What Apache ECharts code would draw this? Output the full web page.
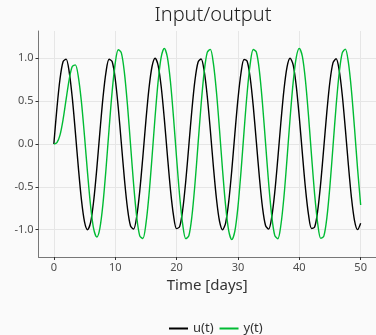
<!DOCTYPE html>
<html>
<head>
<meta charset="utf-8">
<script src="https://cdn.jsdelivr.net/npm/echarts@6/dist/echarts.min.js"></script>
<style>
html,body{margin:0;padding:0;background:#fafafa;}
#chart{width:376px;height:335px;}
</style>
</head>
<body>
<div id="chart"></div>
<script>
var timeDays = [0,0.5,1,1.5,2,2.5,3,3.5,4,4.5,5,5.5,6,6.5,7,7.5,8,8.5,9,9.5,
  10,10.5,11,11.5,12,12.5,13,13.5,14,14.5,15,15.5,16,16.5,17,17.5,18,18.5,19,19.5,
  20,20.5,21,21.5,22,22.5,23,23.5,24,24.5,25,25.5,26,26.5,27,27.5,28,28.5,29,29.5,
  30,30.5,31,31.5,32,32.5,33,33.5,34,34.5,35,35.5,36,36.5,37,37.5,38,38.5,39,39.5,
  40,40.5,41,41.5,42,42.5,43,43.5,44,44.5,45,45.5,46,46.5,47,47.5,48,48.5,49,49.5,50];

var inputU = [0,0.415,0.755,0.959,0.990,0.842,0.543,0.145,-0.279,-0.652,
  -0.908,-1.000,-0.912,-0.659,-0.287,0.136,0.535,0.838,0.989,0.962,
  0.761,0.423,0.009,-0.407,-0.749,-0.957,-0.991,-0.847,-0.550,-0.154,
  0.270,0.646,0.904,1.000,0.915,0.665,0.296,-0.128,-0.528,-0.833,
  -0.987,-0.964,-0.767,-0.431,-0.018,0.399,0.744,0.954,0.992,0.852,
  0.557,0.163,-0.262,-0.639,-0.901,-1.000,-0.919,-0.672,-0.304,0.119,
  0.520,0.828,0.986,0.966,0.772,0.439,0.026,-0.391,-0.738,-0.951,
  -0.993,-0.856,-0.565,-0.171,0.253,0.632,0.897,1.000,0.922,0.678,
  0.312,-0.110,-0.513,-0.823,-0.985,-0.969,-0.778,-0.447,-0.035,0.383,
  0.732,0.949,0.994,0.861,0.572,0.180,-0.245,-0.625,-0.893,-0.999,
  -0.925];

var outputY = [0,0.015,0.104,0.283,0.520,0.751,0.904,0.923,0.781,0.488,
  0.090,-0.343,-0.729,-0.994,-1.085,-0.983,-0.702,-0.292,0.174,0.611,
  0.940,1.100,1.063,0.833,0.453,-0.009,-0.470,-0.847,-1.072,-1.103,
  -0.935,-0.598,-0.154,0.318,0.733,1.016,1.115,1.013,0.729,0.312,
  -0.160,-0.604,-0.938,-1.104,-1.070,-0.843,-0.464,-0.002,0.461,0.841,
  1.069,1.104,0.940,0.607,0.164,-0.309,-0.726,-1.012,-1.115,-1.017,
  -0.736,-0.322,0.150,0.595,0.934,1.102,1.073,0.850,0.473,0.012,
  -0.452,-0.834,-1.066,-1.105,-0.945,-0.615,-0.173,0.300,0.718,1.008,
  1.115,1.021,0.743,0.331,-0.141,-0.587,-0.928,-1.101,-1.075,-0.856,
  -0.482,-0.021,0.443,0.828,1.063,1.107,0.951,0.623,0.183,-0.290,
  -0.711];

var xTicks = [0,10,20,30,40,50];
var yTicks = [-1,-0.5,0,0.5,1];
var seriesNames = ['u(t)','y(t)'];

function pairs(xs, ys){ return xs.map(function(x,i){ return [x, ys[i]]; }); }

var FONT = '"Noto Sans", "Open Sans", sans-serif';
var chart = echarts.init(document.getElementById('chart'), null, {renderer:'canvas'});
chart.setOption({
  backgroundColor: '#fafafa',
  animation: false,
  title: {
    text: 'Input/output',
    left: 208, top: 0, textAlign: 'center',
    textStyle: {fontFamily: FONT, fontWeight: 300, fontSize: 20, color: '#222'}
  },
  legend: {
    data: seriesNames,
    left: 164, top: 317,
    icon: 'rect', itemWidth: 19, itemHeight: 2, itemGap: 6,
    textStyle: {fontFamily: FONT, fontSize: 13, color: '#333'}
  },
  grid: {left: 38.5, right: -2.5, top: 31, bottom: 78, containLabel: false},
  xAxis: {
    type: 'value', min: -2.5, max: 52.5,
    name: 'Time [days]', nameLocation: 'middle', nameGap: 21,
    nameTextStyle: {fontFamily: FONT, fontSize: 15, color: '#333'},
    axisLine: {show: true, onZero: false, lineStyle: {color: '#777', width: 1}},
    axisTick: {show: true, length: 3, customValues: xTicks, lineStyle: {color: '#333'}},
    axisLabel: {customValues: xTicks, fontFamily: FONT, fontSize: 11, color: '#4d4d4d', margin: 5},
    splitLine: {show: true, lineStyle: {color: '#e6e6e6', width: 1}}
  },
  yAxis: {
    type: 'value', min: -1.318, max: 1.318,
    axisLine: {show: true, onZero: false, lineStyle: {color: '#777', width: 1}},
    axisTick: {show: true, length: 3, customValues: yTicks, lineStyle: {color: '#333'}},
    axisLabel: {customValues: yTicks, fontFamily: FONT, fontSize: 11, color: '#4d4d4d', margin: 5,
      formatter: function(v){ return v.toFixed(1); }},
    splitLine: {show: true, lineStyle: {color: '#e6e6e6', width: 1}}
  },
  series: [
    {name: seriesNames[0], type: 'line', data: pairs(timeDays, inputU), smooth: 0.3,
     showSymbol: false, symbol: 'none', lineStyle: {color: '#000', width: 1.4}, itemStyle: {color: '#000'}},
    {name: seriesNames[1], type: 'line', data: pairs(timeDays, outputY), smooth: 0.3,
     showSymbol: false, symbol: 'none', lineStyle: {color: '#00bb33', width: 1.4}, itemStyle: {color: '#00bb33'}}
  ]
});
</script>
</body>
</html>
